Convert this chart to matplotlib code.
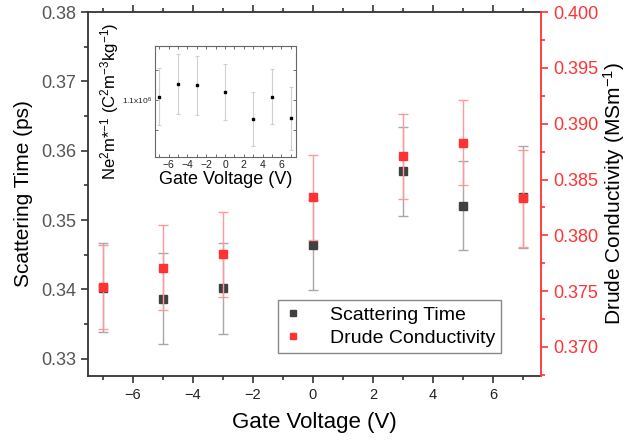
import numpy as np
import matplotlib
matplotlib.use("Agg")
import matplotlib.pyplot as plt
from matplotlib.ticker import MultipleLocator, FixedLocator, FuncFormatter

plt.rcParams['font.family'] = ['Liberation Sans', 'DejaVu Sans']
plt.rcParams['mathtext.fontset'] = 'custom'
plt.rcParams['mathtext.rm'] = 'Liberation Sans'
plt.rcParams['mathtext.it'] = 'Liberation Sans:italic'

# data
gate_v = [-7, -5, -3, 0, 3, 5, 7]
tau = [0.34026, 0.33863, 0.34016, 0.34643, 0.35702, 0.35207, 0.35331]
tau_err = [0.00643, 0.00655, 0.00655, 0.00646, 0.00645, 0.00638, 0.00737]
sigma = [0.37536, 0.37709, 0.37832, 0.38340, 0.38710, 0.38829, 0.38331]
sigma_err = [0.00376, 0.00381, 0.00381, 0.00382, 0.00381, 0.00381, 0.00436]
# inset, in units of 10^6
ne2m = [1.1027, 1.1132, 1.1121, 1.1066, 1.0845, 1.1027, 1.0849]
ne2m_err = [0.0237, 0.0245, 0.0244, 0.0235, 0.0225, 0.0226, 0.0260]

red = '#ff3333'
dark = '#404040'

fig = plt.figure(figsize=(6.29, 4.45), dpi=100)
ax = fig.add_axes([0.1399, 0.155, 0.7202, 0.818])
ax2 = ax.twinx()

ax.errorbar(gate_v, tau, yerr=tau_err, fmt='none', ecolor='#a8a8a8',
            elinewidth=1, capsize=3.5, capthick=1)
h1, = ax.plot(gate_v, tau, 's', color=dark, ms=5.5, ls='none',
              label='Scattering Time')
ax2.errorbar(gate_v, sigma, yerr=sigma_err, fmt='none', ecolor='#ff9a9a',
             elinewidth=1, capsize=3.5, capthick=1)
h2, = ax2.plot(gate_v, sigma, 's', color=red, ms=5.5, ls='none',
               label='Drude Conductivity')

ax.set_xlim(-7.5, 7.6)
ax.set_ylim(0.3275, 0.38)
ax2.set_ylim(0.3674, 0.400)

ax.xaxis.set_major_locator(MultipleLocator(2))
ax.xaxis.set_minor_locator(MultipleLocator(1))
ax.yaxis.set_major_locator(MultipleLocator(0.01))
ax.yaxis.set_minor_locator(MultipleLocator(0.005))
ax.yaxis.set_major_formatter(FuncFormatter(lambda v, p: f'{v:.2f}'))
ax2.yaxis.set_major_locator(MultipleLocator(0.005))
ax2.yaxis.set_minor_locator(MultipleLocator(0.0025))
ax2.yaxis.set_major_formatter(FuncFormatter(lambda v, p: f'{v:.3f}'))

for s in ['left', 'bottom', 'top']:
    ax.spines[s].set_color('#333333')
    ax.spines[s].set_linewidth(1.3)
ax2.spines['right'].set_color(red)
ax2.spines['right'].set_linewidth(1.3)
for s in ['left', 'bottom', 'top']:
    ax2.spines[s].set_visible(False)
ax.spines['right'].set_visible(False)

ax.tick_params(axis='x', which='both', top=True, direction='out',
               labelsize=10.5, colors='#333333', labelcolor='#222222')
ax.tick_params(axis='x', which='major', length=5, width=1.2)
ax.tick_params(axis='x', which='minor', length=3, width=1.2)
ax.tick_params(axis='y', which='major', length=5, width=1.2, labelsize=13,
               colors='#333333', labelcolor='#555555')
ax.tick_params(axis='y', which='minor', length=3, width=1.2, colors='#333333')
ax2.tick_params(axis='y', which='major', length=5, width=1.2, labelsize=13,
                colors=red)
ax2.tick_params(axis='y', which='minor', length=3, width=1.2, colors=red)

ax.set_xlabel('Gate Voltage (V)', fontsize=16, labelpad=7)
ax.set_ylabel('Scattering Time (ps)', fontsize=15, labelpad=6)
ax2.set_ylabel('Drude Conductivity (MSm$^{-1}$)', fontsize=15, labelpad=2)

leg = ax2.legend(handles=[h1, h2], loc='lower right',
                 bbox_to_anchor=(0.912, 0.063), borderaxespad=0,
                 fontsize=14, frameon=True,
                 fancybox=False, edgecolor='#888888', framealpha=1,
                 handlelength=1.0, handletextpad=1.4, borderpad=0.3,
                 labelspacing=0.3, markerscale=0.75)
leg.get_frame().set_linewidth(1)

# inset
ins = fig.add_axes([0.2464, 0.6472, 0.2242, 0.2494])
ins.set_zorder(5)
ins.errorbar(gate_v, ne2m, yerr=ne2m_err, fmt='none', ecolor='#d0d0d0',
             elinewidth=0.8, capsize=1.2, capthick=0.8)
ins.plot(gate_v, ne2m, 's', color='black', ms=1.8, ls='none')
ins.set_xlim(-7.45, 7.55)
ins.set_ylim(1.0529, 1.1446)
ins.xaxis.set_major_locator(MultipleLocator(2))
ins.xaxis.set_minor_locator(MultipleLocator(1))
ins.yaxis.set_major_locator(FixedLocator([1.1]))
ins.yaxis.set_minor_locator(FixedLocator([1.075, 1.125]))
ins.yaxis.set_major_formatter(FuncFormatter(lambda v, p: '1.1x10$^6$'))
ins.tick_params(axis='both', which='both', top=True, right=True,
                direction='in', length=2, width=0.6, colors='#555555',
                labelcolor='#222222')
ins.tick_params(axis='x', labelsize=7.5, pad=2)
ins.tick_params(axis='y', labelsize=6, pad=2)
for s in ins.spines.values():
    s.set_color('#666666')
    s.set_linewidth(0.8)
ins.set_xlabel('Gate Voltage (V)', fontsize=13, labelpad=1)
ins.set_ylabel('Ne$^2$m*$^{-1}$ (C$^2$m$^{-3}$kg$^{-1}$)', fontsize=12,
               labelpad=1)

fig.savefig('out.png', dpi=100)
